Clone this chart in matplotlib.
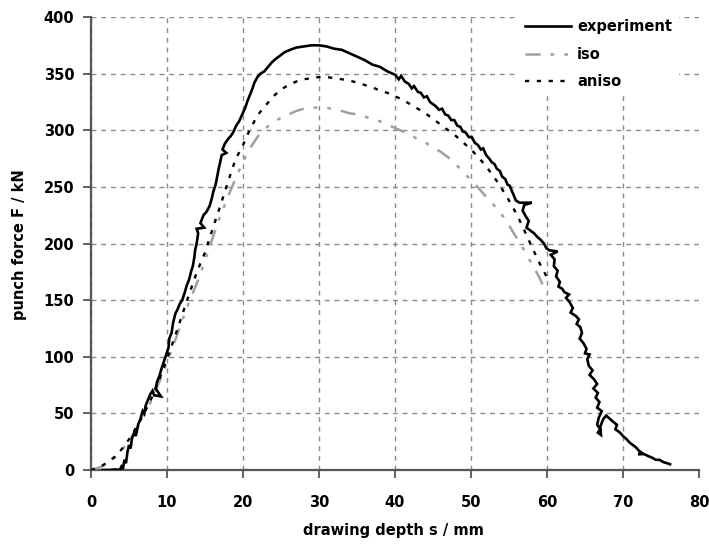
import matplotlib
matplotlib.use("Agg")
import matplotlib.pyplot as plt

# Measured punch force (noisy trace)
exp_x = [1.5, 2.4, 3.2, 3.8, 4.0, 4.2, 4.4, 4.6, 4.8, 5.0, 5.2, 5.4, 5.7, 5.9, 6.2, 6.5,
         6.8, 7.0, 7.2, 7.5, 7.8, 8.1, 8.3, 9.2, 8.5, 8.7, 9.0, 9.3, 9.6, 9.9, 10.2, 10.3,
         10.6, 10.8, 11.1, 11.4, 11.7, 12.0, 12.3, 12.6, 12.9, 13.2, 13.4, 13.6, 13.7, 13.9,
         14.1, 13.9, 14.9, 14.4, 14.8, 15.2, 15.6, 15.9, 16.1, 16.4, 16.6, 16.8, 17.0, 17.2,
         17.8, 17.3, 17.6, 18.0, 18.4, 18.7, 19.1, 19.5, 19.9, 20.3, 20.6, 20.9, 21.2, 21.5,
         21.9, 22.3, 22.8, 23.3, 23.8, 24.3, 24.9, 25.5, 26.2, 27.0, 28.0, 29.0, 30.0, 31.0,
         32.0, 33.0, 34.0, 35.0, 36.0, 37.0, 38.0, 39.0, 40.0, 40.5, 40.8, 41.3, 41.8, 42.2,
         42.5, 43.0, 43.4, 43.8, 44.2, 44.6, 45.0, 45.4, 45.8, 46.2, 46.6, 47.0, 47.4, 47.8,
         48.2, 48.6, 48.9, 49.3, 49.7, 50.1, 50.5, 50.9, 51.3, 51.6, 52.0, 52.4, 52.7, 53.1,
         53.4, 53.8, 54.1, 54.5, 54.8, 55.1, 55.4, 55.6, 55.9, 56.4, 58.0, 57.0, 56.8, 57.2,
         57.6, 57.3, 57.9, 58.3, 58.7, 59.2, 59.6, 59.9, 60.3, 61.4, 60.5, 61.0, 60.9, 61.4,
         61.2, 61.7, 61.5, 62.0, 62.3, 62.9, 62.5, 63.0, 63.4, 63.1, 63.8, 64.2, 63.9, 64.4,
         64.6, 64.3, 64.8, 65.2, 65.0, 65.6, 65.3, 65.5, 66.0, 65.6, 66.2, 66.6, 66.1, 66.7,
         66.4, 66.9, 66.6, 67.2, 66.8, 66.6, 67.0, 66.7, 67.1, 67.0, 67.4, 67.8, 68.3, 68.8,
         69.2, 69.0, 69.6, 70.0, 70.5, 70.9, 71.3, 71.7, 72.1, 72.5, 72.0, 72.8, 73.4, 73.8,
         74.3, 74.8, 75.3, 75.8, 76.2]
exp_y = [0, 0, 0.5, 0, 3, 1, 9, 6, 16, 22, 19, 28, 33, 30, 40, 45,
         52, 50, 57, 62, 67, 70, 66, 65, 72, 78, 83, 90, 96, 102, 108, 116,
         121, 130, 138, 142, 147, 150, 156, 163, 168, 176, 180, 188, 194, 200,
         209, 213, 214, 218, 225, 228, 233, 240, 246, 252, 259, 266, 272, 278,
         280, 283, 288, 292, 295, 298, 304, 308, 314, 320, 326, 331, 336, 342,
         347, 350, 352, 356, 360, 363, 366, 369, 371, 373, 374, 375, 375, 374,
         372, 371, 368, 365, 362, 358, 356, 352, 349, 345, 348, 343, 341, 337,
         339, 334, 333, 329, 330, 325, 323, 321, 318, 319, 314, 313, 309, 309,
         304, 303, 299, 298, 294, 294, 289, 287, 283, 284, 278, 275, 272, 270,
         266, 264, 259, 257, 252, 251, 246, 243, 238, 236, 236, 234, 229, 224,
         220, 214, 211, 209, 206, 203, 200, 196, 194, 193, 190, 186, 180, 176,
         171, 166, 162, 160, 157, 155, 152, 148, 143, 139, 136, 133, 129, 126,
         121, 116, 112, 107, 103, 102, 98, 92, 88, 84, 80, 76, 72, 68,
         64, 60, 55, 52, 46, 40, 36, 33, 31, 38, 45, 48, 45, 42,
         40, 36, 33, 30, 27, 24, 22, 20, 17, 15, 14, 14, 12, 11,
         9, 9, 7, 6, 5]

# Isotropic simulation
iso_x = [0, 1, 2, 3, 4, 5, 6, 7, 8, 9, 10, 11, 12, 13, 14, 15, 16, 17, 18, 19, 20,
         21, 22, 23, 24, 25, 26, 27, 28, 29, 30, 31, 32, 33, 34, 35, 36, 37, 38, 39, 40,
         41, 42, 43, 44, 45, 46, 47, 48, 49, 50, 51, 52, 53, 54, 55, 56, 57, 58, 59, 60]
iso_y = [0, 2, 5, 10, 17, 26, 36, 48, 62, 78, 95, 113, 132, 150, 166, 185, 205, 224, 241, 257, 272,
         285, 295, 302, 307, 311, 314, 317, 319, 320, 320, 320, 318, 317, 315, 314, 312, 310, 308, 305, 302,
         299, 296, 292, 289, 285, 281, 276, 270, 263, 256, 249, 241, 234, 226, 216, 205, 194, 182, 170, 155]

# Anisotropic simulation
aniso_x = [0, 1, 2, 3, 4, 5, 6, 7, 8, 9, 10, 11, 12, 13, 14, 15, 16, 17, 18, 19, 20,
           21, 22, 23, 24, 25, 26, 27, 28, 29, 30, 31, 32, 33, 34, 35, 36, 37, 38, 39, 40,
           41, 42, 43, 44, 45, 46, 47, 48, 49, 50, 51, 52, 53, 54, 55, 56, 57, 58, 59, 60]
aniso_y = [0, 2, 6, 11, 18, 27, 38, 50, 64, 80, 98, 117, 137, 157, 176, 192, 213, 233, 254, 274, 287,
           302, 314, 322, 330, 336, 340, 343, 345, 346, 347, 347, 346, 345, 344, 342, 340, 338, 335, 333, 330,
           327, 323, 319, 315, 310, 305, 300, 295, 289, 283, 276, 268, 259, 249, 238, 226, 212, 197, 183, 170]

x_ticks = [0, 10, 20, 30, 40, 50, 60, 70, 80]
y_ticks = [0, 50, 100, 150, 200, 250, 300, 350, 400]

plt.rcParams['font.family'] = ['DejaVu Sans']
plt.rcParams['font.weight'] = 'bold'

W, H = 709, 544
fig = plt.figure(figsize=(W / 100, H / 100), dpi=100)
ax = fig.add_axes([91 / W, 1 - 470 / H, (699 - 91) / W, (470 - 17) / H])

ax.plot(exp_x, exp_y, color='black', lw=1.9, label='experiment', zorder=5,
        solid_joinstyle='miter')
ax.plot(iso_x, iso_y, color='#a0a0a0', lw=1.8, linestyle=(0, (6, 4, 1.5, 4, 1.5, 4)),
        label='iso', zorder=4)
ax.plot(aniso_x, aniso_y, color='black', lw=1.7, linestyle=(0, (1.8, 3.2)),
        label='aniso', zorder=4)

ax.set_xlim(0, 80)
ax.set_ylim(0, 400)
ax.set_xticks(x_ticks)
ax.set_yticks(y_ticks)
ax.tick_params(axis='both', which='major', labelsize=10.5, colors='#555555',
               labelcolor='black', width=1.3, length=6, direction='out')
ax.tick_params(axis='x', pad=12)
ax.tick_params(axis='y', pad=6)
for lab in ax.get_xticklabels() + ax.get_yticklabels():
    lab.set_fontweight('bold')

ax.grid(True, color='#8a8a8a', linestyle=(0, (3.5, 3.5)), linewidth=1.0, zorder=0)
ax.xaxis.get_gridlines()[-1].set_visible(False)
ax.set_axisbelow(True)

for side in ['top', 'right']:
    ax.spines[side].set_visible(False)
for side in ['left', 'bottom']:
    ax.spines[side].set_color('#555555')
    ax.spines[side].set_linewidth(1.6)

fig.text(393 / W, 1 - 531 / H, 'drawing depth s / mm', ha='center', va='center',
         fontsize=10.5, fontweight='bold')
fig.text(20 / W, 1 - 245 / H, 'punch force F / kN', ha='center', va='center',
         rotation=90, fontsize=10.5, fontweight='bold')

leg = ax.legend(loc='upper left', bbox_to_anchor=(518 / W, 1 - 12 / H),
                bbox_transform=fig.transFigure, frameon=True, fancybox=False,
                facecolor='white', edgecolor='none', framealpha=1.0,
                fontsize=10.5, handlelength=3.1, handletextpad=0.45,
                labelspacing=0.85, borderpad=0.5, borderaxespad=0)
for t in leg.get_texts():
    t.set_fontweight('bold')
leg.set_zorder(10)

fig.savefig('out.png', dpi=100, facecolor='white')
